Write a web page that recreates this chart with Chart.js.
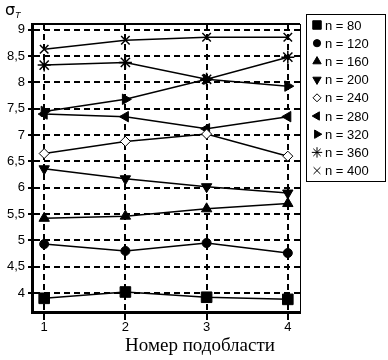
<!DOCTYPE html>
<html>
<head>
<meta charset="utf-8">
<script src="https://cdn.jsdelivr.net/npm/chart.js@4"></script>
<style>
  html, body { margin: 0; padding: 0; background: #fff; }
  #wrap { width: 388px; height: 360px; }
</style>
</head>
<body>
<div id="wrap"><canvas id="SigmaChart" width="388" height="360"></canvas></div>
<script>
// Subregion numbers on the x axis
const subregions = [1, 2, 3, 4];
const yTicks = [4, 4.5, 5, 5.5, 6, 6.5, 7, 7.5, 8, 8.5, 9];

// sigma_T values for each n
const n80  = [3.90, 4.02, 3.92, 3.88];
const n120 = [4.93, 4.80, 4.95, 4.76];
const n160 = [5.42, 5.46, 5.60, 5.70];
const n200 = [6.36, 6.17, 6.02, 5.90];
const n240 = [6.65, 6.88, 7.02, 6.60];
const n280 = [7.40, 7.35, 7.12, 7.35];
const n320 = [7.45, 7.68, 8.06, 7.93];
const n360 = [8.33, 8.38, 8.06, 8.48];
const n400 = [8.63, 8.80, 8.86, 8.86];

const seriesNames = ['n = 80', 'n = 120', 'n = 160', 'n = 200', 'n = 240', 'n = 280', 'n = 320', 'n = 360', 'n = 400'];
const seriesValues = [n80, n120, n160, n200, n240, n280, n320, n360, n400];

// marker look for every series
const markers = [
    { style: 'rect', rot: 0, r: 7.5, fill: '#000' },
    { style: 'circle', rot: 0, r: 4.5, fill: '#000' },
    { style: 'triangle', rot: 0, r: 6, fill: '#000' },
    { style: 'triangle', rot: 180, r: 6, fill: '#000' },
    { style: 'rectRot', rot: 0, r: 5, fill: '#fff' },
    { style: 'triangle', rot: 270, r: 6, fill: '#000' },
    { style: 'triangle', rot: 90, r: 6, fill: '#000' },
    { style: 'star', rot: 0, r: 6.5, fill: '#000' },
    { style: 'crossRot', rot: 0, r: 6, fill: '#000' }
];

const datasets = seriesValues.map((vals, i) => ({
    label: seriesNames[i],
    data: vals.map((v, k) => ({ x: subregions[k], y: v })),
    borderColor: '#000',
    borderWidth: 1.5,
    backgroundColor: markers[i].fill,
    pointStyle: markers[i].style,
    pointRotation: markers[i].rot,
    pointRadius: markers[i].r,
    pointBorderColor: '#000',
    pointBackgroundColor: markers[i].fill,
    pointBorderWidth: i >= 7 ? 1.5 : 1,
    tension: 0
}));

// frame top/right lines, axis titles and the boxed legend
const extras = {
    id: 'extras',
    afterDraw(chart) {
        const ctx = chart.ctx;
        const a = chart.chartArea;
        ctx.save();
        ctx.strokeStyle = '#000';
        ctx.lineWidth = 2;
        ctx.beginPath();
        ctx.moveTo(a.left, a.top);
        ctx.lineTo(a.right, a.top);
        ctx.stroke();
        ctx.lineWidth = 1;
        ctx.beginPath();
        ctx.moveTo(a.right + 0.5, a.top);
        ctx.lineTo(a.right + 0.5, a.bottom);
        ctx.stroke();

        // axis label sigma_T
        ctx.fillStyle = '#000';
        ctx.font = '16px "DejaVu Sans"';
        ctx.textBaseline = 'alphabetic';
        ctx.textAlign = 'left';
        ctx.fillText('σ', 5, 15);
        ctx.font = 'italic 9px "Liberation Sans"';
        ctx.fillText('T', 15, 18);

        // x axis title
        ctx.font = '19px "Liberation Serif"';
        ctx.textAlign = 'center';
        ctx.textBaseline = 'middle';
        ctx.fillText('Номер подобласти', 200, 346);

        // legend box
        const lx = 306, ly = 14, lw = 79, lh = 167;
        ctx.textAlign = 'left';
        ctx.lineWidth = 1;
        ctx.strokeRect(lx + 0.5, ly + 0.5, lw, lh);
        ctx.font = '13px "Liberation Sans"';
        seriesNames.forEach((name, i) => {
            const y = ly + 11 + i * 18.2;
            const m = markers[i];
            ctx.fillStyle = m.fill;
            ctx.strokeStyle = '#000';
            ctx.lineWidth = 1;
            Chart.helpers.drawPoint(ctx, {
                pointStyle: m.style, rotation: m.rot,
                radius: m.r * 0.8, borderWidth: 1
            }, lx + 11, y);
            ctx.fillStyle = '#000';
            ctx.fillText(name, lx + 19, y + 1);
        });
        ctx.restore();
    }
};

const config = {
    type: 'line',
    data: { datasets: datasets },
    options: {
        responsive: false,
        animation: false,
        layout: { padding: { top: 24, right: 88, left: 0, bottom: 24 } },
        plugins: {
            legend: { display: false },
            tooltip: { enabled: false }
        },
        scales: {
            x: {
                type: 'linear',
                min: 0.85,
                max: 4.15,
                afterFit: s => { s.height = 24; },
                afterBuildTicks: s => { s.ticks = subregions.map(v => ({ value: v })); },
                ticks: {
                    color: '#000',
                    font: { family: '"Liberation Sans"', size: 13 },
                    padding: 0,
                    maxRotation: 0
                },
                grid: {
                    color: '#000',
                    lineWidth: 2,
                    tickLength: 8,
                    tickBorderDash: [6, 4],
                    tickColor: '#000'
                },
                border: { display: true, color: '#000', width: 3, dash: [6, 4] }
            },
            y: {
                type: 'linear',
                min: 3.64,
                max: 9.11,
                afterFit: s => { s.width = 32; },
                afterBuildTicks: s => { s.ticks = yTicks.map(v => ({ value: v })); },
                ticks: {
                    color: '#000',
                    font: { family: '"Liberation Sans"', size: 13 },
                    padding: 3,
                    callback: v => String(v).replace('.', ',')
                },
                grid: {
                    color: '#000',
                    lineWidth: 2,
                    tickLength: 4
                },
                border: { display: true, color: '#000', width: 3, dash: [6, 4] }
            }
        }
    },
    plugins: [extras]
};

const ctx = document.getElementById('SigmaChart').getContext('2d');
new Chart(ctx, config);
</script>
</body>
</html>
